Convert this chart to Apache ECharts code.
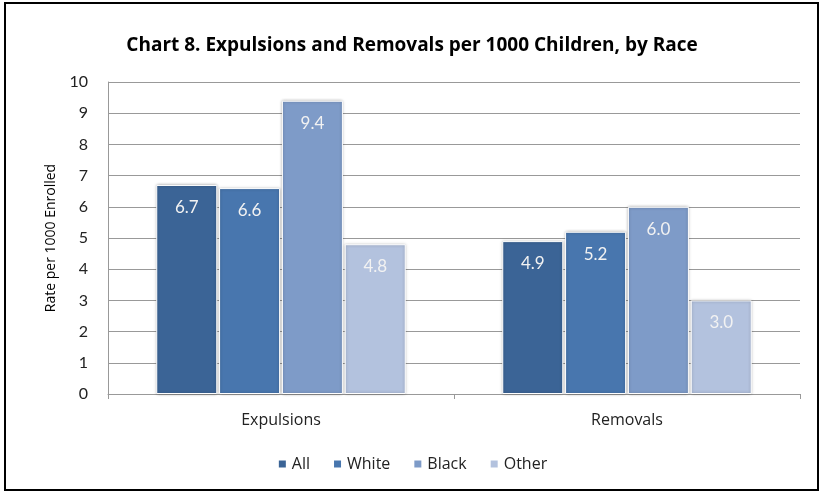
<!DOCTYPE html>
<html><head><meta charset="utf-8">
<script src="https://cdn.jsdelivr.net/npm/echarts@6/dist/echarts.min.js"></script>
<style>
html,body{margin:0;padding:0;background:#fff;}
#frame{position:absolute;left:4px;top:2px;width:811px;height:485px;border:2px solid #000;}
#chart{position:absolute;left:0;top:0;width:824px;height:495px;}
</style></head>
<body>
<div id="frame"></div>
<div id="chart"></div>
<script>
const categories = ['Expulsions', 'Removals'];
const seriesNames = ['All', 'White', 'Black', 'Other'];
const allValues = [6.7, 4.9];
const whiteValues = [6.6, 5.2];
const blackValues = [9.4, 6.0];
const otherValues = [4.8, 3.0];
const yTicks = [0, 1, 2, 3, 4, 5, 6, 7, 8, 9, 10];

const colors = ['#3B6496', '#4876AE', '#7E9BC8', '#B3C2DE'];
const values = [allValues, whiteValues, blackValues, otherValues];
const FONT = 'Lato, "Open Sans", sans-serif';
const FONT2 = '"Open Sans", Lato, sans-serif';

const chart = echarts.init(document.getElementById('chart'), null, {renderer: 'canvas'});
chart.setOption({
  animation: false,
  textStyle: {fontFamily: FONT},
  title: {
    text: 'Chart 8. Expulsions and Removals per 1000 Children, by Race',
    left: 'center', top: 31,
    textStyle: {fontFamily: FONT2, fontSize: 19, fontWeight: 'bold', color: '#000'}
  },
  legend: {
    data: seriesNames, bottom: 18, left: 'center',
    itemWidth: 9, itemHeight: 9, itemGap: 22, icon: 'rect',
    textStyle: {fontFamily: FONT2, fontSize: 16, color: '#222'}
  },
  grid: {left: 108, right: 24, top: 82, bottom: 101, containLabel: false},
  xAxis: {
    type: 'category', data: categories,
    axisLine: {lineStyle: {color: '#999'}},
    axisTick: {show: true, length: 5, lineStyle: {color: '#999'}},
    axisLabel: {fontFamily: FONT2, fontSize: 16, color: '#222', margin: 18}
  },
  yAxis: {
    type: 'value', min: yTicks[0], max: yTicks[yTicks.length - 1], interval: 1,
    name: 'Rate per 1000 Enrolled', nameLocation: 'middle', nameGap: 50,
    nameTextStyle: {fontFamily: FONT2, fontSize: 14, color: '#000'},
    axisLine: {show: true, lineStyle: {color: '#999'}},
    axisTick: {show: false},
    axisLabel: {fontFamily: FONT, fontSize: 16, color: '#222', margin: 20},
    splitLine: {lineStyle: {color: '#999'}}
  },
  series: seriesNames.map((n, i) => ({
    name: n, type: 'bar', data: values[i],
    barWidth: 61, barGap: '3%',
    itemStyle: {color: colors[i], borderColor: '#fff', borderWidth: 1,
      shadowColor: 'rgba(0,0,0,0.3)', shadowBlur: 3},
    label: {show: true, position: 'insideTop', distance: 14,
      formatter: p => p.value.toFixed(1),
      fontFamily: FONT, fontSize: 17, color: '#F2F2F2'}
  }))
});
</script>
</body></html>
